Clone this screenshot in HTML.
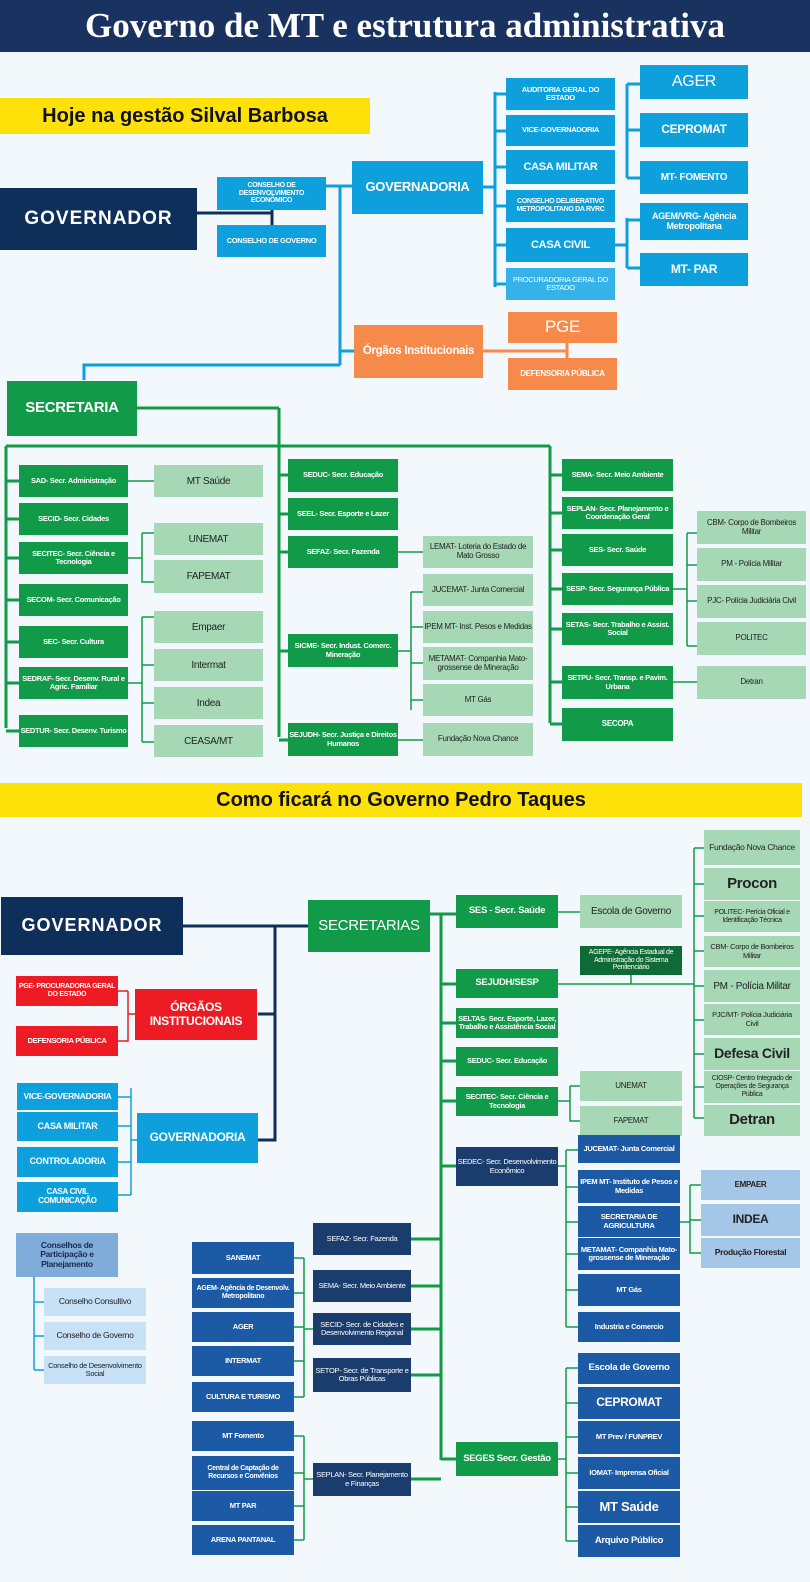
<!DOCTYPE html>
<html><head><meta charset="utf-8"><style>
*{margin:0;padding:0;box-sizing:border-box}
body{width:810px;height:1582px;background:#f3f8fc;position:relative;overflow:hidden;font-family:"Liberation Sans",sans-serif}
.b{position:absolute;display:flex;align-items:center;justify-content:center;text-align:center;line-height:1.1;color:#fff;font-size:8.5px;font-weight:bold;padding:0 1px;letter-spacing:-0.3px}
.g{background:#119a48}.lg{background:#a6d8b6;color:#222;font-weight:normal;font-size:10px}
.bl{background:#0ea0dc}.nv{background:#0e2f5a}.db{background:#1a3d6e}.mb{background:#1d5aa6}
.rd{background:#ed1c24}.or{background:#f58a4b}.lb{background:#a4c6e7;color:#222}
svg{position:absolute;left:0;top:0}
</style></head><body>
<svg width="810" height="1582">
<g stroke="#0e2f5a" stroke-width="3" fill="none">
<path d="M197 213H272M272 205V225"/>
<path d="M183 926H308M275 926V1140H258M258 1014H275"/>
</g>
<g stroke="#0ea0dc" stroke-width="3" fill="none">
<path d="M326 186H352M340 186V365M340 365H84V380"/>
<path d="M340 351H354"/>
<path d="M483 187H495M495 92V287M495 94H506M495 131H506M495 167H506M495 206H506M495 245H506M495 284H506"/>
<path d="M615 245H627M627 84V178M627 84H640M627 130H640M627 178H640M627 218V268M627 220H640M627 268H640"/>
</g>
<g stroke="#0ea0dc" stroke-width="1.5" fill="none">
<path d="M118 1097H131M131 1088V1195M118 1126H131M118 1162H131M118 1195H131M131 1140H137"/>
<path d="M34 1277V1370M34 1302H44M34 1336H44M34 1370H44"/>
</g>
<g stroke="#f58a4b" stroke-width="3" fill="none"><path d="M483 351H567M567 340V360"/></g>
<g stroke="#ed1c24" stroke-width="1.5" fill="none"><path d="M118 991H128M128 991V1041H118M128 1014H135"/></g>
<g stroke="#119a48" stroke-width="3" fill="none">
<path d="M137 408H279M279 408V737M6 446H550M6 446V728M550 446V723"/>
<path d="M6 481H19M6 519H19M6 558H19M6 600H19M6 642H19M6 683H19M6 731H19"/>
<path d="M279 475H288M279 514H288M279 552H288M279 651H288M279 740H288"/>
<path d="M550 475H562M550 513H562M550 550H562M550 589H562M550 629H562M550 682H562M550 724H562"/>
</g>
<g stroke="#119a48" stroke-width="1.5" fill="none">
<path d="M128 481H154M128 558H142M142 533V582H154M142 533H154M128 683H142M142 617V742M142 617H154M142 665H154M142 703H154M142 742H154"/>
<path d="M398 552H423M398 651H411M411 592V710M411 592H423M411 627H423M411 663H423M411 700H423M398 740H423"/>
<path d="M673 589H687M687 533V646M687 533H697M687 565H697M687 601H697M687 646H697M673 682H697"/>
<path d="M558 912H580M558 984H694M631 975V984M694 848V1118M694 848H704M694 884H704M694 916H704M694 951H704M694 986H704M694 1020H704M694 1054H704M694 1087H704M694 1118H704"/>
<path d="M558 1101H570M570 1086V1121H580M570 1086H580"/>
<path d="M558 1166H566M566 1150V1327M566 1150H578M566 1187H578M566 1222H578M566 1254H578M566 1290H578M566 1327H578M680 1222H690M690 1185V1253H701M690 1185H701M690 1220H701"/>
<path d="M558 1459H566M566 1368V1541M566 1368H578M566 1403H578M566 1437H578M566 1473H578M566 1507H578M566 1541H578"/>
<path d="M294 1258H304M304 1258V1397M294 1293H304M294 1327H304M294 1361H304M294 1397H304M304 1329H313"/>
<path d="M294 1436H304M304 1436V1540M294 1473H304M294 1506H304M294 1540H304M304 1479H313"/>
</g>
<g stroke="#119a48" stroke-width="3" fill="none">
<path d="M430 914H456M441 914V1460M441 984H456M441 1023H456M441 1061H456M441 1101H456M441 1166H456M441 1459H456M411 1239H441M411 1286H441M411 1329H441M411 1375H441M411 1479H441"/>
</g>
</svg>

<div class="b nv" style="left:0;top:0;width:810px;height:52px;background:#1a3260;font-family:'Liberation Serif',serif;font-size:35px;font-weight:bold;letter-spacing:0">Governo de MT e estrutura administrativa</div>
<div class="b" style="left:0;top:98px;width:370px;height:36px;background:#ffe10a;color:#111;font-size:20px;letter-spacing:0">Hoje na gestão Silval Barbosa</div>

<div class="b nv" style="left:0;top:188px;width:197px;height:62px;font-size:19px;letter-spacing:1px">GOVERNADOR</div>
<div class="b bl" style="left:217px;top:177px;width:109px;height:33px;font-size:7px">CONSELHO DE DESENVOLVIMENTO ECONÔMICO</div>
<div class="b bl" style="left:217px;top:225px;width:109px;height:32px;font-size:7.5px">CONSELHO DE GOVERNO</div>
<div class="b bl" style="left:352px;top:161px;width:131px;height:53px;font-size:13px">GOVERNADORIA</div>
<div class="b bl" style="left:506px;top:78px;width:109px;height:32px;font-size:7.5px">AUDITORIA GERAL DO ESTADO</div>
<div class="b bl" style="left:506px;top:115px;width:109px;height:31px;font-size:7.5px">VICE-GOVERNADORIA</div>
<div class="b bl" style="left:506px;top:150px;width:109px;height:34px;font-size:11px">CASA MILITAR</div>
<div class="b bl" style="left:506px;top:190px;width:109px;height:32px;font-size:7px">CONSELHO DELIBERATIVO METROPOLITANO DA RVRC</div>
<div class="b bl" style="left:506px;top:228px;width:109px;height:34px;font-size:11px">CASA CIVIL</div>
<div class="b bl" style="left:506px;top:268px;width:109px;height:32px;font-size:7.5px;background:#35b3e8;font-weight:normal">PROCURADORIA GERAL DO ESTADO</div>
<div class="b bl" style="left:640px;top:65px;width:108px;height:34px;font-size:16px;font-weight:normal">AGER</div>
<div class="b bl" style="left:640px;top:113px;width:108px;height:34px;font-size:12px">CEPROMAT</div>
<div class="b bl" style="left:640px;top:161px;width:108px;height:33px;font-size:10px">MT- FOMENTO</div>
<div class="b bl" style="left:640px;top:203px;width:108px;height:37px;font-size:9px">AGEM/VRG- Agência Metropolitana</div>
<div class="b bl" style="left:640px;top:253px;width:108px;height:33px;font-size:12px">MT- PAR</div>
<div class="b or" style="left:354px;top:325px;width:129px;height:53px;font-size:11.5px">Órgãos Institucionais</div>
<div class="b or" style="left:508px;top:312px;width:109px;height:31px;font-size:17px;font-weight:normal">PGE</div>
<div class="b or" style="left:508px;top:358px;width:109px;height:32px;font-size:8px">DEFENSORIA PÚBLICA</div>

<div class="b g" style="left:7px;top:381px;width:130px;height:55px;font-size:15px">SECRETARIA</div>
<div class="b g" style="left:19px;top:465px;width:109px;height:32px;font-size:7.5px">SAD- Secr. Administração</div>
<div class="b g" style="left:19px;top:503px;width:109px;height:32px;font-size:7.5px">SECID- Secr. Cidades</div>
<div class="b g" style="left:19px;top:542px;width:109px;height:32px;font-size:7.5px">SECITEC- Secr. Ciência e Tecnologia</div>
<div class="b g" style="left:19px;top:584px;width:109px;height:32px;font-size:7.5px">SECOM- Secr. Comunicação</div>
<div class="b g" style="left:19px;top:626px;width:109px;height:32px;font-size:7.5px">SEC- Secr. Cultura</div>
<div class="b g" style="left:19px;top:667px;width:109px;height:32px;font-size:7.5px">SEDRAF- Secr. Desenv. Rural e Agric. Familiar</div>
<div class="b g" style="left:19px;top:715px;width:109px;height:32px;font-size:7.5px">SEDTUR- Secr. Desenv. Turismo</div>
<div class="b lg" style="left:154px;top:465px;width:109px;height:32px">MT Saúde</div>
<div class="b lg" style="left:154px;top:523px;width:109px;height:32px">UNEMAT</div>
<div class="b lg" style="left:154px;top:560px;width:109px;height:33px">FAPEMAT</div>
<div class="b lg" style="left:154px;top:611px;width:109px;height:32px">Empaer</div>
<div class="b lg" style="left:154px;top:649px;width:109px;height:32px">Intermat</div>
<div class="b lg" style="left:154px;top:687px;width:109px;height:32px">Indea</div>
<div class="b lg" style="left:154px;top:725px;width:109px;height:32px">CEASA/MT</div>
<div class="b g" style="left:288px;top:459px;width:110px;height:33px;font-size:7.5px">SEDUC- Secr. Educação</div>
<div class="b g" style="left:288px;top:498px;width:110px;height:32px;font-size:7.5px">SEEL- Secr. Esporte e Lazer</div>
<div class="b g" style="left:288px;top:536px;width:110px;height:32px;font-size:7.5px">SEFAZ- Secr. Fazenda</div>
<div class="b g" style="left:288px;top:634px;width:110px;height:33px;font-size:7.5px">SICME- Secr. Indust. Comerc. Mineração</div>
<div class="b g" style="left:288px;top:723px;width:110px;height:33px;font-size:7.5px">SEJUDH- Secr. Justiça e Direitos Humanos</div>
<div class="b lg" style="left:423px;top:536px;width:110px;height:32px;font-size:8px">LEMAT- Loteria do Estado de Mato Grosso</div>
<div class="b lg" style="left:423px;top:574px;width:110px;height:32px;font-size:8px">JUCEMAT- Junta Comercial</div>
<div class="b lg" style="left:423px;top:611px;width:110px;height:32px;font-size:8px">IPEM MT- Inst. Pesos e Medidas</div>
<div class="b lg" style="left:423px;top:647px;width:110px;height:33px;font-size:8px">METAMAT- Companhia Mato-grossense de Mineração</div>
<div class="b lg" style="left:423px;top:684px;width:110px;height:32px;font-size:8px">MT Gás</div>
<div class="b lg" style="left:423px;top:723px;width:110px;height:33px;font-size:8px">Fundação Nova Chance</div>
<div class="b g" style="left:562px;top:459px;width:111px;height:32px;font-size:7.5px">SEMA- Secr. Meio Ambiente</div>
<div class="b g" style="left:562px;top:497px;width:111px;height:32px;font-size:7.5px">SEPLAN- Secr. Planejamento e Coordenação Geral</div>
<div class="b g" style="left:562px;top:534px;width:111px;height:32px;font-size:7.5px">SES- Secr. Saúde</div>
<div class="b g" style="left:562px;top:573px;width:111px;height:32px;font-size:7.5px">SESP- Secr. Segurança Pública</div>
<div class="b g" style="left:562px;top:613px;width:111px;height:32px;font-size:7.5px">SETAS- Secr. Trabalho e Assist. Social</div>
<div class="b g" style="left:562px;top:666px;width:111px;height:33px;font-size:7.5px">SETPU- Secr. Transp. e Pavim. Urbana</div>
<div class="b g" style="left:562px;top:708px;width:111px;height:33px;font-size:8px">SECOPA</div>
<div class="b lg" style="left:697px;top:511px;width:109px;height:33px;font-size:8px">CBM- Corpo de Bombeiros Militar</div>
<div class="b lg" style="left:697px;top:548px;width:109px;height:33px;font-size:8px">PM - Polícia Militar</div>
<div class="b lg" style="left:697px;top:585px;width:109px;height:33px;font-size:8px">PJC- Polícia Judiciária Civil</div>
<div class="b lg" style="left:697px;top:622px;width:109px;height:33px;font-size:8px">POLITEC</div>
<div class="b lg" style="left:697px;top:666px;width:109px;height:33px;font-size:8px">Detran</div>

<div class="b" style="left:0;top:783px;width:802px;height:34px;background:#ffe10a;color:#111;font-size:20px;letter-spacing:0">Como ficará no Governo Pedro Taques</div>

<div class="b nv" style="left:1px;top:897px;width:182px;height:58px;font-size:18px;letter-spacing:1px">GOVERNADOR</div>
<div class="b g" style="left:308px;top:900px;width:122px;height:52px;font-size:15px;font-weight:normal">SECRETARIAS</div>
<div class="b rd" style="left:16px;top:976px;width:102px;height:30px;font-size:7px">PGE- PROCURADORIA GERAL DO ESTADO</div>
<div class="b rd" style="left:16px;top:1026px;width:102px;height:30px;font-size:7.5px">DEFENSORIA PÚBLICA</div>
<div class="b rd" style="left:135px;top:989px;width:122px;height:51px;font-size:12px">ÓRGÃOS INSTITUCIONAIS</div>
<div class="b bl" style="left:17px;top:1083px;width:101px;height:27px;font-size:8.5px">VICE-GOVERNADORIA</div>
<div class="b bl" style="left:17px;top:1112px;width:101px;height:29px;font-size:9px">CASA MILITAR</div>
<div class="b bl" style="left:17px;top:1147px;width:101px;height:30px;font-size:9px">CONTROLADORIA</div>
<div class="b bl" style="left:17px;top:1182px;width:101px;height:30px;font-size:8px">CASA CIVIL COMUNICAÇÃO</div>
<div class="b bl" style="left:137px;top:1113px;width:121px;height:50px;font-size:12px">GOVERNADORIA</div>
<div class="b" style="left:16px;top:1233px;width:102px;height:44px;background:#80acd9;color:#1a2a50;font-size:8.5px">Conselhos de Participação e Planejamento</div>
<div class="b" style="left:44px;top:1288px;width:102px;height:28px;background:#c7e1f7;color:#222;font-weight:normal">Conselho Consultivo</div>
<div class="b" style="left:44px;top:1322px;width:102px;height:28px;background:#c7e1f7;color:#222;font-weight:normal">Conselho de Governo</div>
<div class="b" style="left:44px;top:1356px;width:102px;height:28px;background:#c7e1f7;color:#222;font-weight:normal;font-size:7.5px">Conselho de Desenvolvimento Social</div>

<div class="b g" style="left:456px;top:895px;width:102px;height:33px;font-size:9.5px">SES - Secr. Saúde</div>
<div class="b g" style="left:456px;top:969px;width:102px;height:29px;font-size:9.5px">SEJUDH/SESP</div>
<div class="b g" style="left:456px;top:1008px;width:102px;height:30px;font-size:7.5px">SELTAS- Secr. Esporte, Lazer, Trabalho e Assistência Social</div>
<div class="b g" style="left:456px;top:1047px;width:102px;height:29px;font-size:7.5px">SEDUC- Secr. Educação</div>
<div class="b g" style="left:456px;top:1087px;width:102px;height:29px;font-size:7.5px">SECITEC- Secr. Ciência e Tecnologia</div>
<div class="b db" style="left:456px;top:1147px;width:102px;height:39px;font-size:7.5px;font-weight:normal">SEDEC- Secr. Desenvolvimento Econômico</div>
<div class="b g" style="left:456px;top:1442px;width:102px;height:34px;font-size:9.5px">SEGES Secr. Gestão</div>
<div class="b lg" style="left:580px;top:895px;width:102px;height:33px">Escola de Governo</div>
<div class="b" style="left:580px;top:946px;width:102px;height:29px;background:#0f6b36;font-size:7px;font-weight:normal">AGEPE- Agência Estadual de Administração do Sistema Penitenciário</div>
<div class="b lg" style="left:580px;top:1071px;width:102px;height:30px;font-size:8px">UNEMAT</div>
<div class="b lg" style="left:580px;top:1106px;width:102px;height:30px;font-size:8px">FAPEMAT</div>
<div class="b lg" style="left:704px;top:830px;width:96px;height:35px;font-size:8.5px">Fundação Nova Chance</div>
<div class="b lg" style="left:704px;top:868px;width:96px;height:32px;font-size:15px;font-weight:bold">Procon</div>
<div class="b lg" style="left:704px;top:901px;width:96px;height:31px;font-size:7px">POLITEC- Perícia Oficial e Identificação Técnica</div>
<div class="b lg" style="left:704px;top:936px;width:96px;height:31px;font-size:7.5px">CBM- Corpo de Bombeiros Militar</div>
<div class="b lg" style="left:704px;top:970px;width:96px;height:32px;font-size:10px">PM - Polícia Militar</div>
<div class="b lg" style="left:704px;top:1004px;width:96px;height:31px;font-size:7.5px">PJC/MT- Polícia Judiciária Civil</div>
<div class="b lg" style="left:704px;top:1038px;width:96px;height:32px;font-size:14px;font-weight:bold">Defesa Civil</div>
<div class="b lg" style="left:704px;top:1071px;width:96px;height:32px;font-size:7px">CIOSP- Centro Integrado de Operações de Segurança Pública</div>
<div class="b lg" style="left:704px;top:1105px;width:96px;height:31px;font-size:15px;font-weight:bold">Detran</div>

<div class="b mb" style="left:578px;top:1135px;width:102px;height:28px;font-size:7.5px">JUCEMAT- Junta Comercial</div>
<div class="b mb" style="left:578px;top:1170px;width:102px;height:33px;font-size:7.5px">IPEM MT- Instituto de Pesos e Medidas</div>
<div class="b mb" style="left:578px;top:1206px;width:102px;height:31px;font-size:7.5px">SECRETARIA DE AGRICULTURA</div>
<div class="b mb" style="left:578px;top:1238px;width:102px;height:32px;font-size:7.5px">METAMAT- Companhia Mato-grossense de Mineração</div>
<div class="b mb" style="left:578px;top:1274px;width:102px;height:32px;font-size:7.5px">MT Gás</div>
<div class="b mb" style="left:578px;top:1312px;width:102px;height:30px;font-size:7.5px">Industria e Comercio</div>
<div class="b lb" style="left:701px;top:1170px;width:99px;height:30px;font-size:8px">EMPAER</div>
<div class="b lb" style="left:701px;top:1204px;width:99px;height:32px;font-size:12px">INDEA</div>
<div class="b lb" style="left:701px;top:1238px;width:99px;height:30px;font-size:8.5px">Produção Florestal</div>
<div class="b mb" style="left:578px;top:1353px;width:102px;height:31px;font-size:9.5px">Escola de Governo</div>
<div class="b mb" style="left:578px;top:1387px;width:102px;height:32px;font-size:12px">CEPROMAT</div>
<div class="b mb" style="left:578px;top:1421px;width:102px;height:33px;font-size:7.5px">MT Prev / FUNPREV</div>
<div class="b mb" style="left:578px;top:1457px;width:102px;height:32px;font-size:7.5px">IOMAT- Imprensa Oficial</div>
<div class="b mb" style="left:578px;top:1491px;width:102px;height:32px;font-size:13px">MT Saúde</div>
<div class="b mb" style="left:578px;top:1525px;width:102px;height:32px;font-size:9.5px">Arquivo Público</div>

<div class="b db" style="left:313px;top:1223px;width:98px;height:32px;font-size:7.5px;font-weight:normal">SEFAZ- Secr. Fazenda</div>
<div class="b db" style="left:313px;top:1270px;width:98px;height:32px;font-size:7.5px;font-weight:normal">SEMA- Secr. Meio Ambiente</div>
<div class="b db" style="left:313px;top:1313px;width:98px;height:32px;font-size:7.5px;font-weight:normal">SECID- Secr. de Cidades e Desenvolvimento Regional</div>
<div class="b db" style="left:313px;top:1358px;width:98px;height:34px;font-size:7.5px;font-weight:normal">SETOP- Secr. de Transporte e Obras Públicas</div>
<div class="b db" style="left:313px;top:1463px;width:98px;height:33px;font-size:7.5px;font-weight:normal">SEPLAN- Secr. Planejamento e Finanças</div>
<div class="b mb" style="left:192px;top:1242px;width:102px;height:32px;font-size:7.5px">SANEMAT</div>
<div class="b mb" style="left:192px;top:1278px;width:102px;height:30px;font-size:7px">AGEM- Agência de Desenvolv. Metropolitano</div>
<div class="b mb" style="left:192px;top:1312px;width:102px;height:30px;font-size:7.5px">AGER</div>
<div class="b mb" style="left:192px;top:1346px;width:102px;height:30px;font-size:7.5px">INTERMAT</div>
<div class="b mb" style="left:192px;top:1382px;width:102px;height:30px;font-size:7.5px">CULTURA E TURISMO</div>
<div class="b mb" style="left:192px;top:1421px;width:102px;height:30px;font-size:7.5px">MT Fomento</div>
<div class="b mb" style="left:192px;top:1456px;width:102px;height:34px;font-size:7px">Central de Captação de Recursos e Convênios</div>
<div class="b mb" style="left:192px;top:1491px;width:102px;height:30px;font-size:7.5px">MT PAR</div>
<div class="b mb" style="left:192px;top:1525px;width:102px;height:30px;font-size:7.5px">ARENA PANTANAL</div>
</body></html>
